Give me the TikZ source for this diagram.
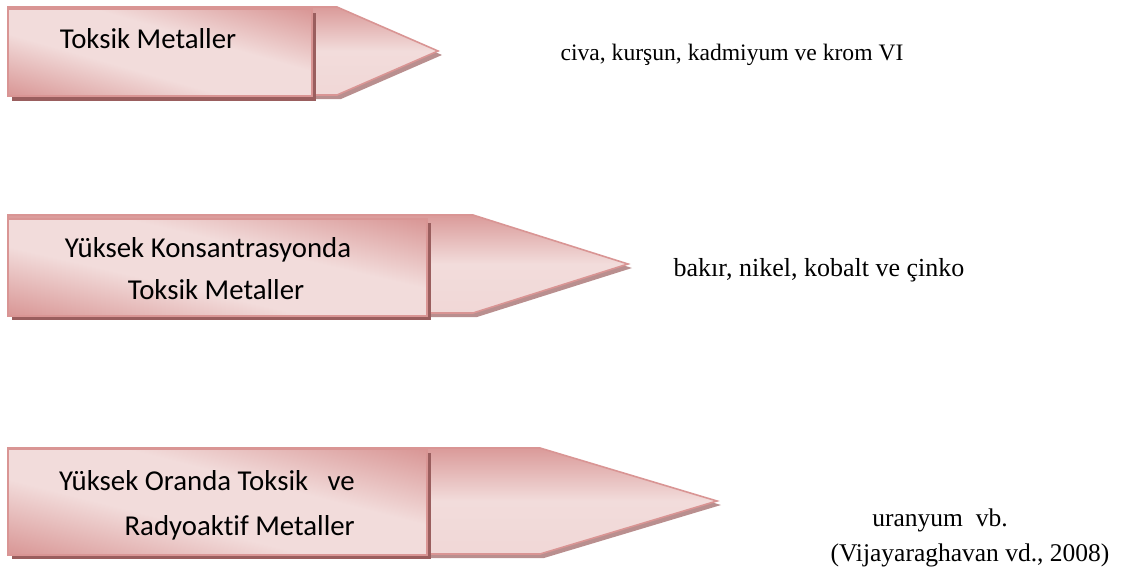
\documentclass[tikz,border=0pt]{standalone}
\usepackage{fontspec}
\setmainfont{Liberation Serif}
\newfontfamily\boxfont[Ligatures=NoCommon]{Carlito}
\definecolor{edgec}{HTML}{D99594}
\definecolor{darkc}{HTML}{D68F8E}
\definecolor{lightc}{HTML}{F2DCDB}
\definecolor{midc}{HTML}{E7BDBC}
\definecolor{rshad}{HTML}{9A5E5E}
\definecolor{pshad}{HTML}{B98F8F}
\pgfdeclareverticalshading{rectgrad}{100bp}{color(0bp)=(darkc); color(12bp)=(darkc); color(40bp)=(lightc); color(60bp)=(lightc); color(88bp)=(darkc); color(100bp)=(darkc)}
\tikzset{
  pent/.style={draw=edgec, line width=1.6pt, line join=miter, top color=darkc!85!lightc, bottom color=lightc!85!midc, middle color=lightc},
  rectedge/.style={draw=edgec, line width=1.6pt},
  pshadow/.style={fill=pshad},
  rshadow/.style={fill=rshad},
  boxtext/.style={font=\boxfont\fontsize{28.8}{34}\selectfont, inner sep=0pt, anchor=base},
  sidetext/.style={font=\fontsize{23.6}{28}\selectfont, inner sep=0pt, anchor=base},
}
% gradient rectangle: x0 y0 x1 y1 (pixel units, y downwards)
\newcommand\gradrect[4]{%
  \pgfmathsetmacro\grxs{(#3-#1)/100}%
  \pgfmathsetmacro\grys{(#4-#2)/100}%
  \begin{scope}[transform canvas={shift={(#1,#2)}, xscale=\grxs, yscale=\grys}]
    \shade[shading=rectgrad, shading angle=-45] (0,0) rectangle (100,100);
  \end{scope}
  \path[rectedge] (#1,#2) rectangle (#3,#4);
}
\begin{document}
\begin{tikzpicture}[x=1pt,y=-1pt]
\useasboundingbox (0,0) rectangle (1138,568);
% ---- row 1
\fill[pshadow] (12,11) -- (341,11) -- (442,55) -- (341,99) -- (12,99) -- cycle;
\path[pent] (8,7) -- (337,7) -- (438,51) -- (337,95) -- (8,95) -- cycle;
\fill[rshadow] (12,13) rectangle (316,101);
\gradrect{8}{9}{312}{96}
\node[boxtext] (t1) at (148,48) {Toksik Metaller};
% ---- row 2
\fill[pshadow] (12,219) -- (477,219) -- (632,268) -- (477,317) -- (12,317) -- cycle;
\path[pent] (8,215) -- (473,215) -- (628,264) -- (473,313) -- (8,313) -- cycle;
\fill[rshadow] (12,223) rectangle (431,320);
\gradrect{8}{219}{427}{316}
\node[boxtext] (t2a) at (208,257) {Yüksek Konsantrasyonda};
\node[boxtext] (t2b) at (216,299) {Toksik Metaller};
% ---- row 3
\fill[pshadow] (12,452) -- (544,452) -- (721,505) -- (544,558) -- (12,558) -- cycle;
\path[pent] (8,448) -- (540,448) -- (717,501) -- (540,554) -- (8,554) -- cycle;
\fill[rshadow] (12,453) rectangle (431,559);
\gradrect{8}{449}{427}{555}
\node[boxtext, anchor=base east] (t3a) at (355,490) {Yüksek Oranda Toksik\ \ \ ve};
\node[boxtext, anchor=base east] (t3b) at (355,535) {Radyoaktif Metaller};
% ---- side texts
\node[sidetext] (s1) at (732,60) {civa, kurşun, kadmiyum ve krom VI};
\node[sidetext, font=\fontsize{26}{30}\selectfont] (s2) at (819,276) {bakır, nikel, kobalt ve çinko};
\node[sidetext, font=\fontsize{25.5}{30}\selectfont] (s3a) at (940,526) {uranyum\ \ vb.};
\node[sidetext, font=\fontsize{25.5}{30}\selectfont] (s3b) at (970,561) {(Vijayaraghavan vd., 2008)};
\end{tikzpicture}
\end{document}
